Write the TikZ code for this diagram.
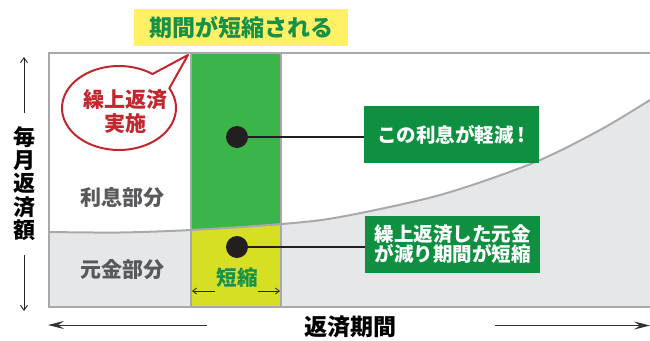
\documentclass[tikz,border=0pt]{standalone}
\usepackage{fontspec}
\setmainfont{Noto Sans CJK JP}
\usetikzlibrary{arrows.meta,calc}
\definecolor{titleyellow}{RGB}{255,240,104}
\definecolor{titlegreen}{RGB}{22,146,72}
\definecolor{boxgreen}{RGB}{14,144,64}
\definecolor{colgreen}{RGB}{58,181,74}
\definecolor{colyellow}{RGB}{215,223,35}
\definecolor{areagray}{RGB}{230,231,233}
\definecolor{framegray}{RGB}{167,169,172}
\definecolor{bubblered}{RGB}{193,39,45}
\definecolor{labelgray}{RGB}{88,89,91}
\definecolor{dotblack}{RGB}{35,31,32}
\tikzset{
  framestyle/.style={draw=framegray, line width=2.5pt},
  curvestyle/.style={draw=framegray, line width=2pt},
  dotstyle/.style={circle, fill=dotblack, minimum size=22pt, inner sep=0pt},
  infobox/.style={fill=boxgreen, text=white, minimum width=175pt, minimum height=57pt, inner sep=0pt, align=center, font=\fontsize{19.5}{20}\selectfont\bfseries},
  partlabel/.style={text=labelgray, inner sep=0pt, font=\fontsize{21}{23}\selectfont\bfseries},
  leader/.style={draw=dotblack, line width=1.5pt},
  axarrow/.style={draw=black!85, line width=0.9pt, -{Straight Barb[length=5pt,width=7pt]}},
  bigarrow/.style={draw=black!80, line width=1pt, -{Stealth[length=16pt,width=8pt,inset=6pt]}},
}
\begin{document}
\begin{tikzpicture}[x=1pt,y=-1pt]
\useasboundingbox (0,0) rectangle (650,340);
% area below curve
\def\curvepts{(49,232) (120,232.5) (191,230) (282,224) (340,217) (440,195) (533,163) (600,130) (650,100)}
\fill[areagray] (49,307) -- plot[smooth] coordinates {\curvepts} -- (650,307) -- cycle;
% column
\fill[colgreen] (191,53) rectangle (281,307);
\begin{scope}
  \clip (191,53) rectangle (281,307);
  \fill[colyellow] (49,307) -- plot[smooth] coordinates {\curvepts} -- (650,307) -- cycle;
\end{scope}
\draw[curvestyle] plot[smooth] coordinates {\curvepts};
\draw[framegray, line width=2pt] (191,53) -- (191,307) (281,53) -- (281,307);
% frame
\draw[framestyle] (650,53) -- (49,53) -- (49,307) -- (650,307);
% title
\node[fill=titleyellow, minimum width=214pt, minimum height=37pt, inner sep=0pt, text=titlegreen, font=\fontsize{23}{25}\selectfont\bfseries] (title) at (241,27.5) {期間が短縮される};
% bubble
\draw[bubblered, fill=white, line width=2pt, line join=round] (119,108) ++(-28:57 and 42) arc[start angle=-28, end angle=306, x radius=57, y radius=42] -- (188,55) -- cycle;
\node[text=bubblered, align=center, inner sep=0pt, font=\fontsize{21}{24}\selectfont\bfseries] (bubbletext) at (125,112) {繰上返済\\実施};
% part labels
\node[partlabel] (interest) at (122,197) {利息部分};
\node[partlabel] (principal) at (122,270) {元金部分};
% dots and boxes
\node[dotstyle] (d1) at (237,137) {};
\node[dotstyle] (d2) at (237,247) {};
\node[infobox] (b1) at (451.5,134.5) {この利息が軽減\kern4pt!};
\node[infobox] (b2) at (452.5,244.5) {繰上返済した元金\\が減り期間が短縮};
\draw[leader] (d1.center) -- (d1.center -| b1.west);
\draw[leader] (d2.center) -- (d2.center -| b2.west);
% shortening label
\node[text=titlegreen, inner sep=0pt, font=\fontsize{20.5}{22}\selectfont\bfseries] (short) at (237,278) {短縮};
\coordinate (sl0) at (215,291); \coordinate (sl1) at (192,291);
\coordinate (sr0) at (258,291); \coordinate (sr1) at (280,291);
\draw[draw=black!85, line width=0.8pt, -{Straight Barb[length=4pt,width=6pt]}] (sl0) -- (sl1);
\draw[draw=black!85, line width=0.8pt, -{Straight Barb[length=4pt,width=6pt]}] (sr0) -- (sr1);
% y axis
\node[align=center, inner sep=0pt, font=\fontsize{22}{23.4}\selectfont\bfseries] (yaxis) at (24,183.5) {毎\\月\\返\\済\\額};
\coordinate (yu0) at (24,113); \coordinate (yu1) at (24,57);
\coordinate (yd0) at (24,255); \coordinate (yd1) at (24,311);
\draw[axarrow] (yu0) -- (yu1);
\draw[axarrow] (yd0) -- (yd1);
% x axis
\node[inner sep=0pt, font=\fontsize{23}{25}\selectfont\bfseries] (xaxis) at (350,327) {返済期間};
\coordinate (xl0) at (207,325); \coordinate (xl1) at (48,325);
\coordinate (xr0) at (495,325.5); \coordinate (xr1) at (650,325.5);
\draw[bigarrow] (xl0) -- (xl1);
\draw[bigarrow] (xr0) -- (xr1);
\end{tikzpicture}
\end{document}
